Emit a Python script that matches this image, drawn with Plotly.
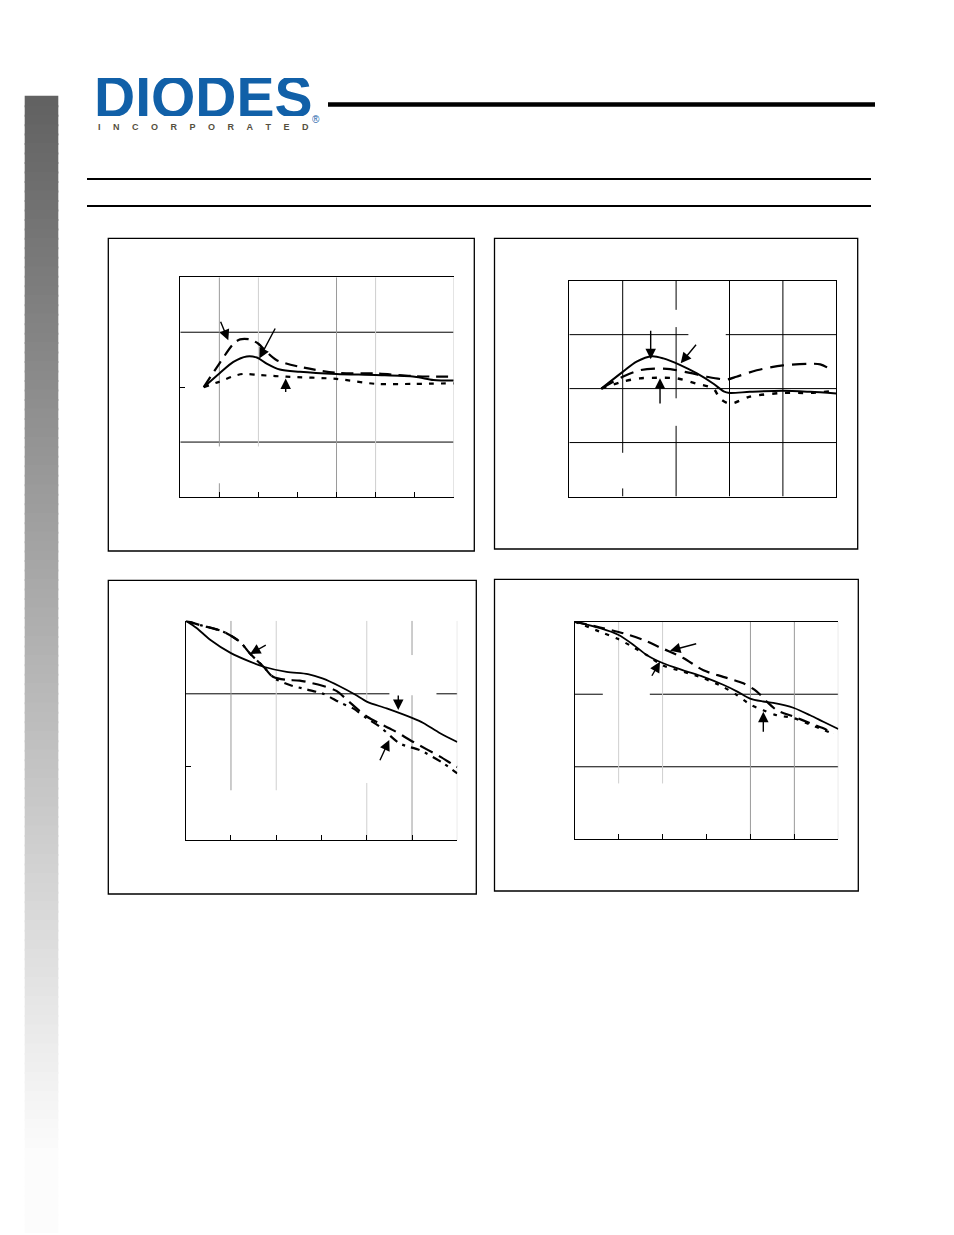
import plotly.graph_objects as go

W, H = 954, 1235
OFF = 8  # the page body has an 8px margin
FW, FH = W - OFF, H - OFF

# ---------------- data ----------------
# Panel 1 (top-left)
p1_solid_x = [0.6, 1.0, 1.36, 1.70, 1.96, 2.21, 2.55, 3.06, 4.0, 5.0, 6.0, 6.48, 7.0]
p1_solid_y = [2.0, 2.25, 2.46, 2.56, 2.54, 2.43, 2.32, 2.28, 2.24, 2.22, 2.19, 2.13, 2.12]
p1_dash_x = [0.6, 1.0, 1.36, 1.53, 1.78, 2.0, 2.21, 2.47, 3.06, 4.0, 5.0, 6.0, 7.0]
p1_dash_y = [2.0, 2.43, 2.79, 2.87, 2.87, 2.79, 2.64, 2.49, 2.37, 2.26, 2.25, 2.20, 2.19]
p1_dot_x = [0.6, 1.0, 1.36, 1.61, 2.04, 2.72, 4.0, 5.0, 6.0, 7.0]
p1_dot_y = [2.0, 2.10, 2.20, 2.24, 2.22, 2.19, 2.15, 2.06, 2.06, 2.07]

# Panel 2 (top-right)
p2_solid_x = [0.6, 1.0, 1.26, 1.55, 1.76, 2.07, 2.39, 2.70, 2.89, 3.0, 3.38, 4.0, 4.51, 5.0]
p2_solid_y = [2.0, 2.31, 2.50, 2.60, 2.56, 2.44, 2.28, 2.09, 1.95, 1.92, 1.94, 1.96, 1.94, 1.91]
p2_dash_x = [0.6, 1.0, 1.32, 1.60, 1.89, 2.26, 2.57, 2.95, 3.13, 3.51, 4.0, 4.48, 4.70, 4.87]
p2_dash_y = [2.0, 2.22, 2.34, 2.37, 2.36, 2.29, 2.22, 2.17, 2.22, 2.34, 2.43, 2.46, 2.45, 2.37]
p2_dot_x = [0.6, 1.0, 1.32, 1.64, 2.01, 2.39, 2.70, 2.82, 3.01, 3.38, 4.0, 4.51, 5.0]
p2_dot_y = [2.0, 2.13, 2.19, 2.20, 2.19, 2.09, 2.00, 1.82, 1.72, 1.85, 1.92, 1.92, 1.96]

# Panel 3 (bottom-left)
p3_solid_x = [0, 0.24, 0.54, 0.99, 1.42, 1.72, 2.23, 2.70, 3.02, 3.41, 3.74, 4.01, 4.44, 5.0, 5.25, 5.62, 6.0]
p3_solid_y = [3.0, 2.90, 2.74, 2.56, 2.44, 2.37, 2.30, 2.27, 2.21, 2.10, 1.99, 1.89, 1.80, 1.67, 1.60, 1.46, 1.34]
p3_dash_x = [0, 0.32, 0.83, 1.2, 1.42, 1.72, 1.94, 2.23, 2.52, 3.02, 3.33, 3.63, 4.0, 4.59, 5.03, 5.62, 5.91, 6.0]
p3_dash_y = [3.0, 2.94, 2.85, 2.71, 2.55, 2.37, 2.23, 2.19, 2.18, 2.11, 2.04, 1.88, 1.69, 1.50, 1.34, 1.14, 1.03, 1.00]
p3_dashdot_x = [0, 0.32, 0.83, 1.2, 1.42, 1.72, 1.94, 2.30, 2.67, 3.04, 3.41, 3.70, 4.01, 4.29, 4.73, 5.17, 5.69, 6.0]
p3_dashdot_y = [3.0, 2.94, 2.85, 2.71, 2.55, 2.37, 2.22, 2.12, 2.06, 2.00, 1.88, 1.80, 1.66, 1.55, 1.32, 1.23, 1.05, 0.91]

# Panel 4 (bottom-right)
p4_solid_x = [0, 0.58, 0.99, 1.34, 1.64, 2.0, 2.47, 2.93, 3.38, 3.69, 3.99, 4.29, 4.52, 4.99, 5.36, 5.66, 6.0]
p4_solid_y = [3.0, 2.91, 2.82, 2.68, 2.54, 2.43, 2.33, 2.24, 2.13, 2.04, 1.94, 1.90, 1.88, 1.81, 1.71, 1.62, 1.52]
p4_dash_x = [0, 0.58, 1.11, 1.56, 2.0, 2.47, 2.93, 3.38, 3.84, 4.14, 4.37, 4.60, 4.99, 5.36, 5.66, 5.89]
p4_dash_y = [3.0, 2.92, 2.84, 2.75, 2.63, 2.50, 2.33, 2.24, 2.15, 2.04, 1.90, 1.78, 1.69, 1.60, 1.53, 1.46]
p4_dot_x = [0, 0.58, 0.99, 1.30, 1.64, 2.0, 2.47, 2.93, 3.38, 3.69, 3.99, 4.29, 4.60, 4.99, 5.36, 5.66, 5.89]
p4_dot_y = [3.0, 2.86, 2.76, 2.66, 2.54, 2.40, 2.31, 2.22, 2.10, 1.99, 1.86, 1.78, 1.71, 1.67, 1.58, 1.51, 1.45]

logo_word = "DIODES"
logo_sub = "INCORPORATED"


def px(x):
    return (x - OFF) / FW


def py(y):
    return 1 - (y - OFF) / FH


fig = go.Figure()

BLACK = "#000000"


def add_line(xs, ys, n, dash="solid", width=2.0):
    fig.add_trace(go.Scatter(
        x=xs, y=ys, mode="lines",
        line=dict(color=BLACK, width=width, dash=dash, shape="spline", smoothing=0.8),
        xaxis="x" if n == 1 else f"x{n}", yaxis="y" if n == 1 else f"y{n}",
        showlegend=False, hoverinfo="skip"))


add_line(p1_dash_x, p1_dash_y, 1, "12px,7px", 2.2)
add_line(p1_dot_x, p1_dot_y, 1, "5px,7px", 2.2)
add_line(p1_solid_x, p1_solid_y, 1, "solid", 2.0)

add_line(p2_dash_x, p2_dash_y, 2, "14px,8px", 2.2)
add_line(p2_dot_x, p2_dot_y, 2, "5px,8px", 2.4)
add_line(p2_solid_x, p2_solid_y, 2, "solid", 2.0)

add_line(p3_dash_x, p3_dash_y, 3, "14px,7px", 2.2)
add_line(p3_dashdot_x, p3_dashdot_y, 3, "9px,6px,3px,6px", 2.2)
add_line(p3_solid_x, p3_solid_y, 3, "solid", 1.8)

add_line(p4_dash_x, p4_dash_y, 4, "12px,7px", 2.2)
add_line(p4_dot_x, p4_dot_y, 4, "4px,7px", 2.2)
add_line(p4_solid_x, p4_solid_y, 4, "solid", 1.8)

shapes = []

# left gradient bar (overlapping strips to avoid seams)
n_strips = 120
top, bot = 95.7, 1233.0
step = (bot - top) / n_strips
for i in range(n_strips):
    y0 = top + step * i
    y1 = min(bot, y0 + step + 2.0)
    t = (i + 0.5) / n_strips
    v = int(round(97 + (252 - 97) * min(1.0, t / 0.93)))
    c = f"rgb({v},{v},{v})"
    shapes.append(dict(type="rect", xref="paper", yref="paper",
                       x0=px(24.7), x1=px(58.3), y0=py(y1), y1=py(y0),
                       fillcolor=c, line=dict(width=0), layer="below"))

# header lines
shapes.append(dict(type="line", xref="paper", yref="paper", x0=px(328), x1=px(875),
                   y0=py(104.5), y1=py(104.5), line=dict(color=BLACK, width=4.5)))
for yy in (179, 206):
    shapes.append(dict(type="line", xref="paper", yref="paper", x0=px(87), x1=px(871),
                       y0=py(yy), y1=py(yy), line=dict(color=BLACK, width=2)))

# logo stripe
shapes.append(dict(type="line", xref="paper", yref="paper", x0=px(97), x1=px(206),
                   y0=py(97.5), y1=py(97.5), line=dict(color="white", width=1.6)))

# panel boxes
for (l, r, t_, b_) in [(108.3, 474.3, 238.3, 551), (494.5, 857.7, 238.3, 549),
                       (108.3, 476.3, 580.3, 894), (494.5, 858.3, 579.3, 891)]:
    shapes.append(dict(type="rect", xref="paper", yref="paper",
                       x0=px(l), x1=px(r), y0=py(b_), y1=py(t_),
                       line=dict(color=BLACK, width=1.3), fillcolor="rgba(0,0,0,0)"))


def seg(n, x0, x1, y0, y1, color=BLACK, width=1):
    xr = "x" if n == 1 else f"x{n}"
    yr = "y" if n == 1 else f"y{n}"
    shapes.append(dict(type="line", xref=xr, yref=yr, x0=x0, x1=x1, y0=y0, y1=y1,
                       line=dict(color=color, width=width), layer="below"))


G1, G2 = "#9a9a9a", "#cfcfcf"
# panel 1 grid
seg(1, 0, 7, 1, 1)
seg(1, 0, 7, 3, 3)
seg(1, 1, 1, 4, 0.92, G1)
seg(1, 1, 1, 0.25, 0, G1)
seg(1, 2, 2, 4, 0.92, G2)
seg(1, 4, 4, 4, 0, G1)
seg(1, 5, 5, 4, 0, G2)
seg(1, 7, 7, 4, 0, G2)

# panel 2 grid
seg(2, 0, 2.23, 3, 3)
seg(2, 2.93, 5, 3, 3)
seg(2, 0, 5, 2, 2)
seg(2, 0, 5, 1, 1)
seg(2, 1, 1, 4, 0.81)
seg(2, 1, 1, 0.15, 0)
seg(2, 2, 2, 4, 3.46)
seg(2, 2, 2, 3.14, 1.82)
seg(2, 2, 2, 1.31, 0)
seg(2, 3, 3, 4, 0)
seg(2, 4, 4, 4, 0)

# panel 3 grid
seg(3, 0, 4.5, 2, 2)
seg(3, 5.54, 6, 2, 2)
seg(3, 1, 1, 3, 0.68, G1)
seg(3, 2, 2, 3, 0.68, G2)
seg(3, 4, 4, 3, 1.92, G2)
seg(3, 4, 4, 0.78, 0, G2)
seg(3, 5, 5, 3, 2.53, G1)
seg(3, 5, 5, 1.98, 0, G1)
seg(3, 6, 6, 3, 0, G2)

# panel 4 grid
seg(4, 0, 0.64, 2, 2)
seg(4, 1.71, 6, 2, 2)
seg(4, 0, 6, 1, 1)
seg(4, 1, 1, 3, 0.77, G2)
seg(4, 2, 2, 3, 0.77, G2)
seg(4, 4, 4, 3, 0, G1)
seg(4, 5, 5, 3, 0, G1)
seg(4, 6, 6, 3, 0, G2)

annotations = []


def arrow(n, x, y, ax, ay):
    xr = "x" if n == 1 else f"x{n}"
    yr = "y" if n == 1 else f"y{n}"
    annotations.append(dict(xref=xr, yref=yr, x=x, y=y, ax=ax, ay=ay, text="",
                            showarrow=True, arrowhead=2, arrowsize=1.5,
                            arrowwidth=1.4, arrowcolor=BLACK))


arrow(1, 1.229, 2.855, -8.3, -20)
arrow(1, 2.022, 2.52, 16.7, -31.6)
arrow(1, 2.698, 2.158, 0, 15)

arrow(2, 1.524, 2.543, 0, -30)
arrow(2, 2.086, 2.469, 16.6, -20)
arrow(2, 1.699, 2.191, 0, 26.7)

arrow(3, 1.42, 2.544, 17.3, -9.7)
arrow(3, 4.696, 1.778, 0, -16)
arrow(3, 4.497, 1.368, -10, 21.7)

arrow(4, 2.169, 2.60, 27.7, -7.4)
arrow(4, 1.942, 2.449, -9, 15.6)
arrow(4, 4.293, 1.759, 0, 21.6)

# logo text
annotations.append(dict(xref="paper", yref="paper", x=px(92), y=py(97), xanchor="left",
                        yanchor="middle", showarrow=False, height=38, valign="middle",
                        text=f"<b>{logo_word}</b>",
                        font=dict(family="Liberation Sans", size=57, color="#1160a8")))
gap = "&nbsp;" * 5
annotations.append(dict(xref="paper", yref="paper", x=px(203), y=py(127), height=10,
                        xanchor="center", yanchor="middle", showarrow=False,
                        text="<b>" + gap.join(list(logo_sub)) + "</b>",
                        font=dict(family="Liberation Sans", size=9, color="#564f3e")))
annotations.append(dict(xref="paper", yref="paper", x=px(315.5), y=py(119.5), xanchor="center",
                        yanchor="middle", showarrow=False, text="®", height=9,
                        font=dict(family="Liberation Sans", size=10, color="#1160a8")))


def xax(dom, rng, tickvals, mirror=True):
    return dict(domain=dom, range=rng, showgrid=False, zeroline=False, showline=True,
                linecolor=BLACK, linewidth=1.2, mirror=mirror, ticks="inside", ticklen=5,
                tickcolor=BLACK, tickwidth=1, tickvals=tickvals, showticklabels=False,
                fixedrange=True)


def yax(dom, rng, tickvals, anchor):
    return dict(domain=dom, range=rng, showgrid=False, zeroline=False, showline=True,
                linecolor=BLACK, linewidth=1.2, mirror=False, ticks="inside", ticklen=5,
                tickcolor=BLACK, tickwidth=1, tickvals=tickvals, showticklabels=False,
                anchor=anchor, fixedrange=True)


layout = dict(
    width=FW, height=FH, margin=dict(l=0, r=0, t=0, b=0),
    paper_bgcolor="white", plot_bgcolor="white", showlegend=False,
    xaxis=xax([px(180.3), px(453.7)], [0, 7], [1, 2, 3, 4, 5, 6], True),
    yaxis=yax([py(497), py(277.3)], [0, 4], [2], "x"),
    xaxis2=xax([px(569.3), px(836.3)], [0, 5], [], True),
    yaxis2=yax([py(496.5), py(280.7)], [0, 4], [], "x2"),
    xaxis3=xax([px(185.7), px(457.3)], [0, 6], [1, 2, 3, 4, 5, 6], False),
    yaxis3=yax([py(840), py(620.7)], [0, 3], [1], "x3"),
    xaxis4=xax([px(574.7), px(838.3)], [0, 6], [1, 2, 3, 4, 5, 6], True),
    yaxis4=yax([py(839.3), py(621.7)], [0, 3], [], "x4"),
    shapes=shapes, annotations=annotations,
)
layout["xaxis"]["anchor"] = "y"
layout["xaxis2"]["anchor"] = "y2"
layout["xaxis3"]["anchor"] = "y3"
layout["xaxis4"]["anchor"] = "y4"
layout["yaxis2"]["mirror"] = True
fig.update_layout(**layout)

fig.write_html("out.html", config={"displayModeBar": False})
